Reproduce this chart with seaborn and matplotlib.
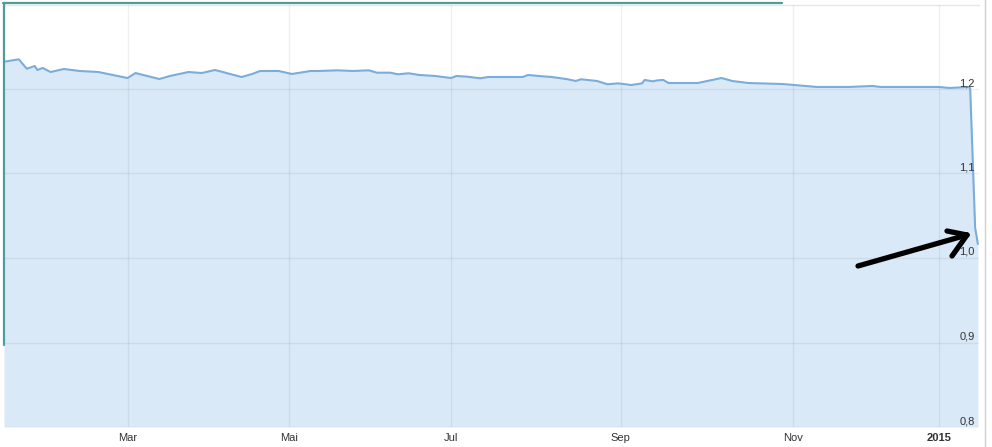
import matplotlib
matplotlib.use("Agg")
import matplotlib.pyplot as plt
import matplotlib.transforms as mtransforms
import seaborn as sns
import pandas as pd
import numpy as np

# ---- data (EUR/CHF) ----
dates = [
    "2014-01-13 10:00", "2014-01-19", "2014-01-22", "2014-01-25", "2014-01-26",
    "2014-01-28", "2014-01-31", "2014-02-05", "2014-02-11", "2014-02-18",
    "2014-03-01", "2014-03-04", "2014-03-13", "2014-03-17", "2014-03-24",
    "2014-03-29", "2014-04-03", "2014-04-13", "2014-04-17", "2014-04-20",
    "2014-04-27", "2014-05-02", "2014-05-09", "2014-05-12", "2014-05-19",
    "2014-05-25", "2014-05-31", "2014-06-03", "2014-06-08", "2014-06-11",
    "2014-06-15", "2014-06-19", "2014-06-25", "2014-07-01", "2014-07-03",
    "2014-07-07", "2014-07-12", "2014-07-15", "2014-07-28", "2014-07-30",
    "2014-08-03", "2014-08-08", "2014-08-14", "2014-08-17", "2014-08-19",
    "2014-08-25", "2014-08-29", "2014-09-02", "2014-09-07", "2014-09-11",
    "2014-09-12", "2014-09-15", "2014-09-17", "2014-09-19", "2014-09-21",
    "2014-10-02", "2014-10-11", "2014-10-15", "2014-10-21", "2014-11-03",
    "2014-11-16", "2014-11-28", "2014-12-07", "2014-12-10", "2014-12-23",
    "2015-01-01", "2015-01-05", "2015-01-12", "2015-01-12 18:00",
    "2015-01-14 15:00", "2015-01-15 16:00",
]
rates = [
    1.2323, 1.2351, 1.2240, 1.2272, 1.2225,
    1.2249, 1.2201, 1.2237, 1.2213, 1.2201,
    1.2130, 1.2189, 1.2118, 1.2154, 1.2201,
    1.2189, 1.2225, 1.2142, 1.2178, 1.2213,
    1.2213, 1.2178, 1.2213, 1.2213, 1.2221,
    1.2213, 1.2221, 1.2193, 1.2193, 1.2174,
    1.2186, 1.2166, 1.2154, 1.2130, 1.2154,
    1.2146, 1.2127, 1.2142, 1.2142, 1.2166,
    1.2154, 1.2142, 1.2115, 1.2095, 1.2115,
    1.2095, 1.2056, 1.2067, 1.2047, 1.2067,
    1.2107, 1.2091, 1.2103, 1.2107, 1.2071,
    1.2071, 1.2130, 1.2095, 1.2071, 1.2059,
    1.2024, 1.2024, 1.2036, 1.2024, 1.2024,
    1.2024, 1.2012, 1.2024, 1.2012,
    1.0355, 1.0166,
]
x_tick_dates = ["2014-03-01", "2014-05-01", "2014-07-01", "2014-09-03", "2014-11-07", "2015-01-01"]
x_tick_labels = ["Mar", "Mai", "Jul", "Sep", "Nov", "2015"]
y_ticks = [0.8, 0.9, 1.0, 1.1, 1.2]
y_tick_labels = ["0,8", "0,9", "1,0", "1,1", "1,2"]

df = pd.DataFrame({"date": pd.to_datetime(dates, format="mixed"), "rate": rates})

sns.set_theme(style="white")
plt.rcParams["font.family"] = ["Liberation Sans", "DejaVu Sans"]

W, H = 992, 447
fig = plt.figure(figsize=(W / 100, H / 100), dpi=100)
ax = fig.add_axes([4 / W, 20 / H, (978.8 - 4) / W, (442.5 - 20) / H])

line_c = "#7BADDA"
fill_c = "#DAE9F8"

ax.fill_between(df["date"], df["rate"], 0.8, color=fill_c, lw=0, zorder=1)
sns.lineplot(data=df, x="date", y="rate", ax=ax, color=line_c, lw=1.5, zorder=3)

ax.set_xlim(pd.Timestamp("2014-01-13 10:00"), pd.Timestamp("2015-01-16 00:00"))
ax.set_ylim(0.8, 1.3)

xt = pd.to_datetime(x_tick_dates)
ax.set_xticks(xt)
ax.set_xticklabels(x_tick_labels)
for lab in ax.get_xticklabels():
    lab.set_fontsize(8)
    lab.set_color("#333333")
ax.get_xticklabels()[-1].set_fontweight("bold")
ax.tick_params(axis="x", length=0, pad=4)
ax.set_yticks(y_ticks)
ax.set_yticklabels([])
ax.tick_params(axis="y", length=0)
ax.set_xlabel("")
ax.set_ylabel("")

ax.grid(True, color="black", alpha=0.06, lw=1, zorder=2)
ax.set_axisbelow(False)
for s in ["left", "bottom", "right"]:
    ax.spines[s].set_visible(False)
ax.spines["top"].set_color("#E6E6E6")
ax.spines["top"].set_linewidth(1)

trans = mtransforms.blended_transform_factory(ax.transAxes, ax.transData)
for v, lab in zip(y_ticks, y_tick_labels):
    ax.annotate(lab, xy=(1.0, v), xycoords=trans, xytext=(-4, 3),
                textcoords="offset pixels", ha="right", va="baseline",
                fontsize=8, color="#333333", zorder=5)

# hand-drawn arrow annotation (figure pixel coords)
def fp(x, y):
    return x / W, 1 - y / H

arrow_segments = [((858, 266), (967, 235)), ((947, 231), (967, 235)), ((952, 256), (967, 235))]
for (x0, y0), (x1, y1) in arrow_segments:
    a, b = fp(x0, y0)
    c, d = fp(x1, y1)
    fig.add_artist(plt.Line2D([a, c], [b, d], transform=fig.transFigure,
                              color="black", lw=3.8, solid_capstyle="round", zorder=10))

# screenshot frame remnants
teal = "#4E9C9C"
fig.add_artist(plt.Line2D([3 / W, 782 / W], [1 - 3 / H, 1 - 3 / H], transform=fig.transFigure,
                          color=teal, lw=1.6, zorder=11))
fig.add_artist(plt.Line2D([4 / W, 4 / W], [1 - 3 / H, 1 - 345 / H], transform=fig.transFigure,
                          color=teal, lw=1.6, zorder=11))
fig.add_artist(plt.Line2D([984.5 / W, 984.5 / W], [0, 1], transform=fig.transFigure,
                          color="#D0D0D0", lw=1, zorder=11))

fig.savefig("out.png", dpi=100)
